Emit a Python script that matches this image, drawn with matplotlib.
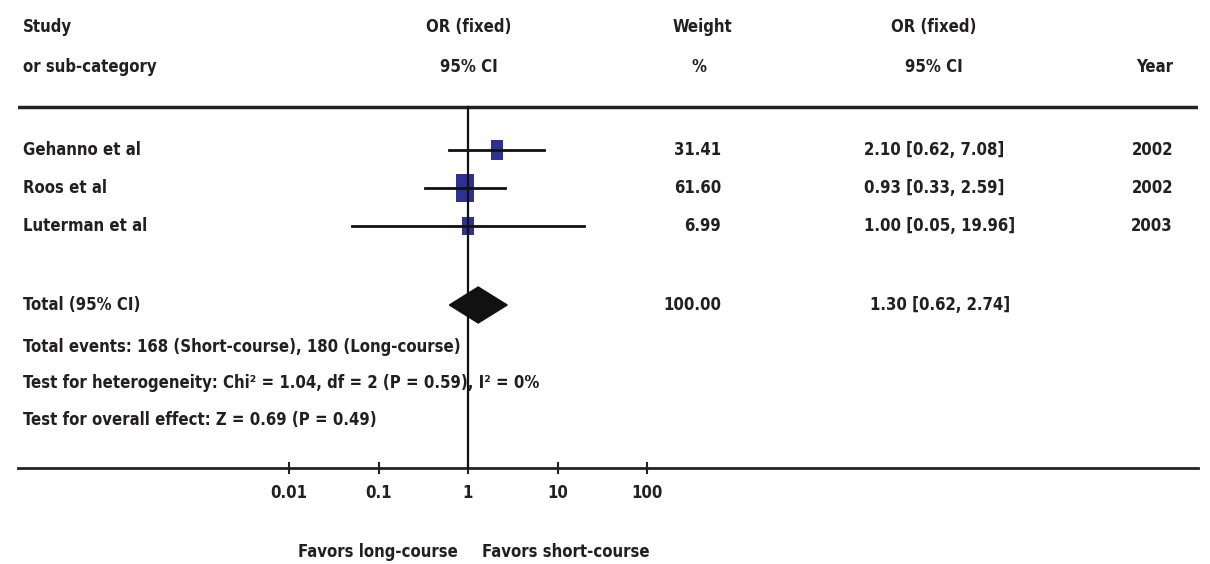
import numpy as np
import matplotlib
matplotlib.use("Agg")
import matplotlib.pyplot as plt
from matplotlib.patches import Polygon
from matplotlib import font_manager as fm

# ---------------- data ----------------
studies = ["Gehanno et al", "Roos et al", "Luterman et al"]
or_vals = [2.10, 0.93, 1.00]
ci_low = [0.62, 0.33, 0.05]
ci_high = [7.08, 2.59, 19.96]
weights = [31.41, 61.60, 6.99]
years = [2002, 2002, 2003]

total_or = 1.30
total_low = 0.62
total_high = 2.74
total_weight = 100.00

tick_vals = [0.01, 0.1, 1, 10, 100]
tick_labels = ["0.01", "0.1", "1", "10", "100"]

stats_lines = [
    "Total events: 168 (Short-course), 180 (Long-course)",
    "Test for heterogeneity: Chi\u00b2 = 1.04, df = 2 (P = 0.59), I\u00b2 = 0%",
    "Test for overall effect: Z = 0.69 (P = 0.49)",
]

# ---------------- style ----------------
cond_path = fm.findfont(fm.FontProperties(family='DejaVu Sans', stretch='condensed',
                                          weight='bold'), fallback_to_default=True)
if 'ondensed' in cond_path:
    FAMILY = ['DejaVu Sans']
    STRETCH = 'condensed'
    FS = 12
else:
    FAMILY = ['Lato', 'DejaVu Sans']
    STRETCH = 'normal'
    FS = 12.5
plt.rcParams['font.family'] = FAMILY
plt.rcParams['font.stretch'] = STRETCH
TXT = '#231f20'
BOX = '#2e3192'
W, H = 1210, 564

fig = plt.figure(figsize=(W / 100, H / 100), dpi=100)

# text layer in pixel coords
axt = fig.add_axes([0, 0, 1, 1])
axt.set_xlim(0, W)
axt.set_ylim(H, 0)
axt.axis('off')

# forest axes: log x, y in pixel rows
X0, X1, XONE, DEC = 18, 1198, 468, 89.5
ax = fig.add_axes([X0 / W, 0, (X1 - X0) / W, 1])
ax.patch.set_alpha(0)
ax.set_xscale('log')
ax.set_xlim(10 ** ((X0 - XONE) / DEC), 10 ** ((X1 - XONE) / DEC))
ax.set_ylim(H, 0)
for s in ['top', 'left', 'right']:
    ax.spines[s].set_visible(False)
ax.spines['bottom'].set_position(('data', 468))
ax.spines['bottom'].set_linewidth(2.0)
ax.spines['bottom'].set_color('#222222')
ax.set_yticks([])
ax.set_xticks(tick_vals)
ax.set_xticklabels(tick_labels)
ax.minorticks_off()
ax.tick_params(axis='x', direction='inout', length=9, width=1.5, color='#222222',
               pad=7, labelsize=FS, labelcolor=TXT)
for lab in ax.get_xticklabels():
    lab.set_fontweight('bold')
    lab.set_fontstretch(STRETCH)

# top rule and vertical line of no effect
ax.axhline(107, color='#222222', lw=2.5)
ax.plot([1, 1], [107, 468], color='#111111', lw=1.6, zorder=4)

row_y = [150, 188, 226]
total_y = 305
stat_y = [347, 383, 420]

box_verts = [(-0.66, -1), (0.66, -1), (0.66, 1), (-0.66, 1), (-0.66, -1)]
for i in range(len(studies)):
    y = row_y[i]
    h = max(12.5, 19.5 * np.sqrt(weights[i] / max(weights)))
    ax.plot([or_vals[i]], [y], marker=box_verts, markersize=h, color=BOX,
            markeredgewidth=0, linestyle='none', zorder=3)
    ax.plot([ci_low[i], ci_high[i]], [y, y], color='#111111', lw=2.0, zorder=5)

diamond = Polygon([(total_low, total_y), (total_or, total_y - 18),
                   (total_high, total_y), (total_or, total_y + 18)],
                  closed=True, facecolor='#111111', edgecolor='#111111', zorder=3)
ax.add_patch(diamond)

kw = dict(fontsize=FS, color=TXT, fontweight='bold', va='center', fontstretch=STRETCH)

# headers
axt.text(23, 27, "Study", ha='left', **kw)
axt.text(23, 67, "or sub-category", ha='left', **kw)
axt.text(469, 27, "OR (fixed)", ha='center', **kw)
axt.text(469, 67, "95% CI", ha='center', **kw)
axt.text(702, 27, "Weight", ha='center', **kw)
axt.text(699, 67, "%", ha='center', **kw)
axt.text(934, 27, "OR (fixed)", ha='center', **kw)
axt.text(934, 67, "95% CI", ha='center', **kw)
axt.text(1173, 67, "Year", ha='right', **kw)

for i in range(len(studies)):
    y = row_y[i]
    axt.text(23, y, studies[i], ha='left', **kw)
    axt.text(721, y, f"{weights[i]:.2f}", ha='right', **kw)
    axt.text(864, y, f"{or_vals[i]:.2f} [{ci_low[i]:.2f}, {ci_high[i]:.2f}]", ha='left', **kw)
    axt.text(1173, y, str(years[i]), ha='right', **kw)

axt.text(23, total_y, "Total (95% CI)", ha='left', **kw)
axt.text(721, total_y, f"{total_weight:.2f}", ha='right', **kw)
axt.text(870, total_y, f"{total_or:.2f} [{total_low:.2f}, {total_high:.2f}]", ha='left', **kw)

for y, s in zip(stat_y, stats_lines):
    axt.text(23, y, s, ha='left', **kw)

axt.text(458, 552, "Favors long-course", ha='right', **kw)
axt.text(482, 552, "Favors short-course", ha='left', **kw)

fig.savefig("out.png", dpi=100)
